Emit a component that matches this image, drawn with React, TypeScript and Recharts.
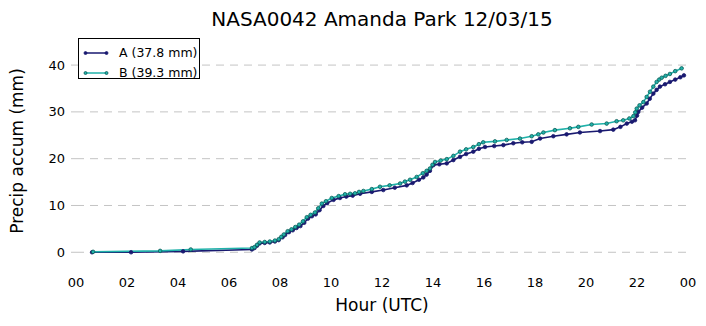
import { LineChart, Line, XAxis, YAxis, ReferenceLine } from "recharts";

// hours (UTC) and accumulated precip (mm)
const seriesA: [number, number][] = [
  [0.63, 0.0], [2.16, 0.0], [4.2, 0.2], [6.9, 0.6],
  [7.0, 0.9], [7.1, 1.4], [7.2, 1.9], [7.4, 2.0], [7.6, 2.1], [7.8, 2.3], [7.95, 2.6],
  [8.1, 3.2], [8.2, 3.7], [8.35, 4.3], [8.5, 4.7], [8.65, 5.2], [8.8, 5.6], [8.95, 6.3],
  [9.1, 7.2], [9.25, 7.7], [9.4, 8.1], [9.55, 9.0], [9.7, 9.9], [9.85, 10.5],
  [10.1, 11.2], [10.35, 11.6], [10.6, 11.9], [10.85, 12.1], [11.14, 12.5], [11.6, 12.9],
  [12.05, 13.3], [12.5, 13.8], [12.97, 14.3], [13.2, 14.8], [13.45, 15.5], [13.62, 16.0],
  [13.75, 16.6], [13.88, 17.4], [14.01, 18.6], [14.25, 18.8], [14.54, 19.0], [14.8, 19.7],
  [15.06, 20.4], [15.3, 21.0], [15.58, 21.5], [15.8, 22.1], [16.04, 22.5], [16.4, 22.7],
  [16.76, 22.9], [17.15, 23.3], [17.5, 23.5], [17.87, 23.6], [18.2, 24.3], [18.72, 24.8],
  [19.24, 25.2], [19.76, 25.6], [20.55, 25.9], [21.07, 26.2], [21.35, 26.8], [21.6, 27.5],
  [21.8, 27.9], [21.92, 28.2], [22.0, 29.2], [22.05, 30.0], [22.2, 30.9], [22.38, 31.8],
  [22.5, 32.8], [22.64, 33.9], [22.77, 34.7], [22.9, 35.4], [23.1, 35.9], [23.29, 36.4],
  [23.5, 36.9], [23.7, 37.4], [23.84, 37.8],
];

const seriesB: [number, number][] = [
  [0.67, 0.1], [3.3, 0.3], [4.5, 0.6], [6.9, 0.9],
  [7.0, 1.1], [7.1, 1.6], [7.2, 2.1], [7.4, 2.2], [7.6, 2.3], [7.8, 2.5], [7.95, 2.8],
  [8.05, 3.3], [8.15, 3.8], [8.3, 4.5], [8.45, 4.9], [8.6, 5.4], [8.75, 5.9], [8.9, 6.6],
  [9.05, 7.5], [9.2, 8.0], [9.37, 8.5], [9.5, 9.4], [9.64, 10.4], [9.8, 10.9],
  [10.03, 11.6], [10.3, 12.0], [10.55, 12.4], [10.75, 12.5], [10.94, 12.6], [11.1, 12.9],
  [11.27, 13.1], [11.6, 13.5], [11.92, 14.0], [12.3, 14.3], [12.71, 14.7], [12.9, 15.1],
  [13.1, 15.5], [13.36, 16.1], [13.6, 16.9], [13.75, 17.4], [13.88, 17.9], [13.98, 18.7],
  [14.08, 19.3], [14.3, 19.6], [14.54, 19.9], [14.8, 20.6], [15.06, 21.5], [15.3, 22.0],
  [15.58, 22.5], [15.8, 23.1], [15.97, 23.5], [16.43, 23.7], [16.89, 24.0], [17.41, 24.3],
  [17.87, 24.8], [18.13, 25.2], [18.33, 25.6], [18.78, 26.1], [19.37, 26.5], [19.7, 26.8],
  [20.22, 27.3], [20.81, 27.5], [21.2, 28.0], [21.46, 28.2], [21.7, 28.6], [21.86, 29.1],
  [21.93, 29.9], [21.99, 30.7], [22.1, 31.4], [22.25, 32.1], [22.38, 33.2], [22.51, 34.3],
  [22.64, 35.4], [22.77, 36.4], [22.87, 36.9], [22.97, 37.3], [23.12, 37.7], [23.29, 38.1],
  [23.5, 38.7], [23.75, 39.3],
];

const hourTicks = [0, 2, 4, 6, 8, 10, 12, 14, 16, 18, 20, 22, 24];
const mmTicks = [0, 10, 20, 30, 40];
const labelA = "A (37.8 mm)";
const labelB = "B (39.3 mm)";

const colorA = "#191970";
const colorB = "#20b2aa";
const edgeB = "#0d5c57";
const gridColor = "#c4c4c4";
const font = "'DejaVu Sans', sans-serif";

const toRows = (s: [number, number][]) => s.map(([h, mm]) => ({ h, mm }));

function Swatch({ color, edge }: { color: string; edge: string }) {
  return (
    <svg width={26} height={6} style={{ display: "block" }}>
      <line x1={2} y1={3} x2={24} y2={3} stroke={color} strokeWidth={1.5} />
      <circle cx={2.5} cy={3} r={1.5} fill={color} stroke={edge} strokeWidth={0.8} />
      <circle cx={23.5} cy={3} r={1.5} fill={color} stroke={edge} strokeWidth={0.8} />
    </svg>
  );
}

export default function App() {
  return (
    <div style={{ position: "absolute", left: 0, top: 0, width: 706, height: 326, background: "#fff", fontFamily: font }}>
      <LineChart width={706} height={326} margin={{ top: 37, right: 18, bottom: 25, left: 16 }}>
        <XAxis
          type="number"
          dataKey="h"
          domain={[0, 24]}
          ticks={hourTicks}
          tickFormatter={(v: number) => String(v % 24).padStart(2, "0")}
          axisLine={false}
          tickLine={false}
          tickSize={0}
          tickMargin={7}
          height={30}
          tick={{ fill: "#000", fontSize: 13, fontFamily: font }}
          allowDataOverflow
        />
        <YAxis
          type="number"
          dataKey="mm"
          domain={[-4, 46]}
          ticks={mmTicks}
          axisLine={false}
          tickLine={{ stroke: gridColor }}
          tickSize={5}
          tickMargin={6}
          width={60}
          tick={{ fill: "#000", fontSize: 13, fontFamily: font }}
          allowDataOverflow
        />
        {mmTicks.map((v) => (
          <ReferenceLine key={v} y={v} stroke={gridColor} strokeDasharray="8 6" />
        ))}
        <Line
          data={toRows(seriesA)}
          dataKey="mm"
          stroke={colorA}
          strokeWidth={1.6}
          dot={{ r: 1.8, fill: colorA, stroke: colorA, strokeWidth: 0.8 }}
          isAnimationActive={false}
        />
        <Line
          data={toRows(seriesB)}
          dataKey="mm"
          stroke={colorB}
          strokeWidth={1.6}
          dot={{ r: 1.8, fill: colorB, stroke: edgeB, strokeWidth: 0.8 }}
          isAnimationActive={false}
        />
      </LineChart>

      <div style={{ position: "absolute", left: 0, width: 706, paddingLeft: 58, boxSizing: "border-box", top: 9, textAlign: "center", fontSize: 20, lineHeight: "20px", whiteSpace: "nowrap" }}>
        NASA0042 Amanda Park 12/03/15
      </div>
      <div style={{ position: "absolute", left: 76, width: 612, top: 297, textAlign: "center", fontSize: 17, lineHeight: "17px" }}>
        Hour (UTC)
      </div>
      <div style={{ position: "absolute", left: 17, top: 151, transform: "translate(-50%, -50%) rotate(-90deg)", fontSize: 17, lineHeight: "17px", whiteSpace: "nowrap" }}>
        Precip accum (mm)
      </div>

      <div style={{ position: "absolute", left: 78, top: 38, width: 120, height: 39, border: "1px solid #000", background: "#fff", fontSize: 12.5 }}>
        <div style={{ position: "absolute", left: 4, top: 7, display: "flex", alignItems: "center" }}>
          <Swatch color={colorA} edge={colorA} />
          <span style={{ marginLeft: 10, lineHeight: "14px" }}>{labelA}</span>
        </div>
        <div style={{ position: "absolute", left: 4, top: 27, display: "flex", alignItems: "center" }}>
          <Swatch color={colorB} edge={edgeB} />
          <span style={{ marginLeft: 10, lineHeight: "14px" }}>{labelB}</span>
        </div>
      </div>
    </div>
  );
}
